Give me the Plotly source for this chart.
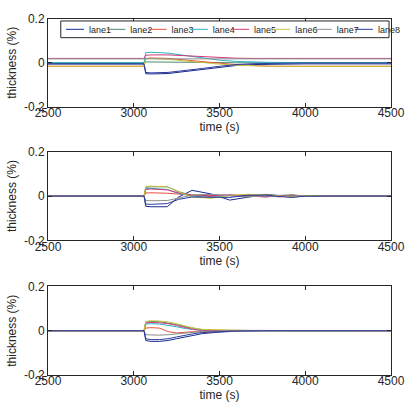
import plotly.graph_objects as go
from plotly.subplots import make_subplots

lanes = ["lane1", "lane2", "lane3", "lane4", "lane5", "lane6", "lane7", "lane8"]
colors = ["#1c2a8c", "#4c8c6c", "#e8503c", "#28b4c0", "#d4387c", "#c8c43c", "#8c8c8c", "#2c3ca0"]

xticks = [2500, 3000, 3500, 4000, 4500]
yticks = [-0.2, 0, 0.2]
yticklabels = ["-0.2", "0", "0.2"]

# subplot 1
T1 = [2500, 3060, 3070, 3100, 3200, 3300, 3400, 3500, 3600, 3700, 3800, 4000, 4200, 4500]
Y1 = [
    [-0.004, -0.004, -0.050, -0.051, -0.049, -0.040, -0.030, -0.020, -0.012, -0.008, -0.006, -0.005, -0.005, -0.005],
    [0.000, 0.000, 0.004, 0.004, 0.004, 0.003, 0.002, 0.001, 0.000, 0.000, 0.000, 0.000, 0.000, 0.000],
    [-0.016, -0.016, 0.020, 0.022, 0.020, 0.012, 0.004, -0.003, -0.009, -0.013, -0.016, -0.016, -0.016, -0.016],
    [0.001, 0.001, 0.046, 0.048, 0.044, 0.034, 0.022, 0.012, 0.006, 0.003, 0.002, 0.001, 0.001, 0.001],
    [0.020, 0.020, 0.034, 0.036, 0.036, 0.032, 0.028, 0.024, 0.021, 0.020, 0.020, 0.020, 0.020, 0.020],
    [-0.016, -0.016, 0.018, 0.020, 0.016, 0.008, 0.000, -0.006, -0.011, -0.014, -0.016, -0.016, -0.016, -0.016],
    [0.018, 0.018, 0.018, 0.018, 0.018, 0.018, 0.018, 0.018, 0.018, 0.018, 0.018, 0.018, 0.018, 0.018],
    [-0.006, -0.006, -0.044, -0.046, -0.044, -0.036, -0.026, -0.016, -0.008, -0.004, -0.002, -0.001, -0.001, -0.001],
]

# subplot 2
T2 = [2500, 3060, 3070, 3100, 3195, 3260, 3340, 3450, 3560, 3660, 3770, 3850, 3920, 4000, 4100, 4500]
Y2 = [
    [0, 0, -0.046, -0.048, -0.048, -0.005, 0.026, 0.010, -0.018, -0.005, 0.008, 0.002, -0.004, 0.000, 0.000, 0.000],
    [0, 0, 0.040, 0.042, 0.042, 0.020, 0.004, 0.006, 0.002, -0.002, 0.004, 0.003, 0.006, 0.000, 0.000, 0.000],
    [0, 0, 0.014, 0.015, 0.013, 0.010, 0.005, -0.002, 0.003, 0.004, -0.002, 0.000, 0.002, 0.000, 0.000, 0.000],
    [0, 0, 0.034, 0.035, 0.030, 0.012, 0.000, -0.006, 0.004, 0.002, -0.003, 0.002, 0.000, 0.000, 0.000, 0.000],
    [0, 0, 0.030, 0.032, 0.028, 0.015, 0.004, 0.002, 0.006, 0.000, -0.004, 0.002, 0.003, 0.000, 0.000, 0.000],
    [0, 0, 0.044, 0.045, 0.042, 0.022, -0.004, -0.010, 0.003, 0.008, 0.006, 0.000, -0.004, 0.002, 0.000, 0.000],
    [0, 0, -0.020, -0.021, -0.020, -0.008, 0.004, 0.008, 0.000, -0.004, 0.002, -0.004, 0.006, -0.002, 0.000, 0.000],
    [0, 0, -0.036, -0.037, -0.034, -0.015, -0.004, -0.005, -0.006, 0.004, 0.005, -0.002, -0.006, 0.000, 0.000, 0.000],
]

# subplot 3
T3 = [2500, 3060, 3070, 3100, 3150, 3200, 3250, 3300, 3350, 3400, 3500, 3600, 3750, 4500]
Y3 = [
    [0, 0, -0.044, -0.048, -0.048, -0.044, -0.036, -0.028, -0.020, -0.013, -0.006, -0.002, 0, 0],
    [0, 0, 0.040, 0.042, 0.041, 0.036, 0.028, 0.018, 0.010, 0.005, 0.001, 0, 0, 0],
    [0, 0, 0.012, 0.014, 0.012, -0.004, -0.010, -0.006, -0.004, -0.006, -0.003, 0, 0, 0],
    [0, 0, 0.030, 0.032, 0.030, 0.025, 0.018, 0.010, 0.004, 0.001, 0, 0, 0, 0],
    [0, 0, 0.035, 0.038, 0.036, 0.032, 0.024, 0.014, 0.006, 0.002, 0.002, 0, 0, 0],
    [0, 0, 0.042, 0.045, 0.044, 0.040, 0.032, 0.022, 0.012, 0.006, 0.004, 0.002, 0, 0],
    [0, 0, -0.018, -0.020, -0.020, -0.018, -0.014, -0.010, -0.006, -0.003, -0.001, 0, 0, 0],
    [0, 0, -0.036, -0.040, -0.040, -0.036, -0.028, -0.020, -0.013, -0.008, -0.004, -0.001, 0, 0],
]

W, H = 418, 412
ML, MR, MT, MB = 46, 23, 13, 37
PW, PH = W - ML - MR, H - MT - MB

fig = make_subplots(rows=3, cols=1)

for row, (T, Y) in enumerate([(T1, Y1), (T2, Y2), (T3, Y3)], start=1):
    for i, name in enumerate(lanes):
        fig.add_trace(
            go.Scatter(x=T, y=Y[i], mode="lines", name=name,
                       line=dict(color=colors[i], width=1),
                       showlegend=False),
            row=row, col=1)

# legend entries (one small legend per lane, laid out in a single row like the original)
legend_font = dict(family="Liberation Sans, Arial, sans-serif", size=9, color="#262626")
legend_layout = {}
for i, name in enumerate(lanes):
    key = "legend" if i == 0 else f"legend{i + 1}"
    fig.add_trace(go.Scatter(x=[None], y=[None], mode="lines", name=name,
                             line=dict(color=colors[i], width=1, dash="0px,12px,23px,100px"),
                             legend=key, showlegend=True, hoverinfo="skip"),
                  row=1, col=1)
    legend_layout[key] = dict(
        x=(47 + 42 * i - ML) / PW, y=(H - MB - 23.5) / PH,
        xanchor="left", yanchor="middle", orientation="h",
        bgcolor="rgba(0,0,0,0)", borderwidth=0, font=legend_font,
        itemwidth=30, itemclick=False, itemdoubleclick=False)

font = dict(family="Liberation Sans, Arial, sans-serif", size=12, color="#262626")
domains = [[0.754, 1.0], [0.378, 0.627], [0.0, 0.2486]]
for row in range(1, 4):
    fig.update_xaxes(range=[2500, 4500], tickvals=xticks, ticks="inside", ticklen=4,
                     showline=True, linecolor="#262626", linewidth=1, mirror="ticks",
                     tickcolor="#262626", showgrid=False, zeroline=False,
                     ticklabelstandoff=-5,
                     title=dict(text="time (s)", font=font, standoff=0),
                     tickfont=font, row=row, col=1)
    fig.update_yaxes(range=[-0.2, 0.2], tickvals=yticks, ticktext=yticklabels,
                     ticks="inside", ticklen=4, showline=True, linecolor="#262626",
                     linewidth=1, mirror="ticks", tickcolor="#262626",
                     showgrid=False, zeroline=False,
                     title=dict(text="thickness (%)", font=font, standoff=4),
                     tickfont=font, domain=domains[row - 1], row=row, col=1)

fig.update_layout(
    width=W, height=H,
    margin=dict(l=ML, r=MR, t=MT, b=MB),
    paper_bgcolor="white", plot_bgcolor="white",
    font=font,
    shapes=[dict(type="rect", xref="paper", yref="paper",
                 x0=(59 - ML) / PW, x1=(393 - ML) / PW,
                 y0=(H - MB - 32) / PH, y1=(H - MB - 15) / PH,
                 line=dict(color="#262626", width=1), fillcolor="white", layer="above")],
    **legend_layout,
)

fig.write_html("out.html")
